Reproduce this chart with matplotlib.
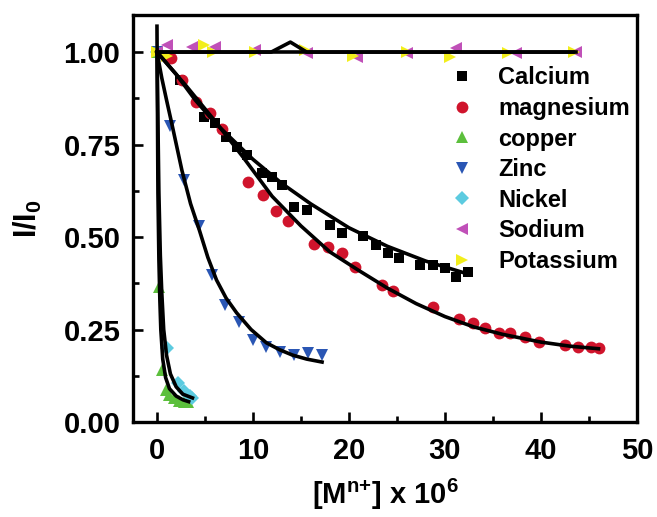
import matplotlib
matplotlib.use("Agg")
import matplotlib.pyplot as plt
from matplotlib.ticker import MultipleLocator, FormatStrFormatter

plt.rcParams['font.family'] = ['Liberation Sans', 'DejaVu Sans']
plt.rcParams['font.weight'] = 'bold'
plt.rcParams['mathtext.fontset'] = 'custom'
plt.rcParams['mathtext.rm'] = 'Liberation Sans:bold'
plt.rcParams['mathtext.bf'] = 'Liberation Sans:bold'
plt.rcParams['mathtext.it'] = 'Liberation Sans:bold'
plt.rcParams['mathtext.default'] = 'bf'

# ---- data ----
ca_x = [0, 2.4, 4.9, 6.0, 7.2, 8.3, 9.4, 10.9, 12.0, 13.0, 14.3, 15.6, 18.0, 19.3, 21.5, 22.8, 24.1, 25.2, 27.4, 28.8, 30.0, 31.2, 32.4]
ca_y = [1.0, 0.924, 0.824, 0.808, 0.770, 0.743, 0.722, 0.673, 0.662, 0.641, 0.581, 0.573, 0.532, 0.511, 0.503, 0.478, 0.457, 0.443, 0.424, 0.424, 0.416, 0.392, 0.405]
ca_fit_x = [0, 2, 4, 6, 8, 10, 13, 16, 20, 24, 28, 32.4]
ca_fit_y = [1.0, 0.94, 0.87, 0.81, 0.76, 0.71, 0.645, 0.59, 0.525, 0.475, 0.435, 0.40]

mg_x = [0, 1.5, 2.6, 4.1, 5.5, 6.8, 9.5, 11.0, 12.4, 13.6, 16.4, 17.8, 19.3, 20.6, 23.4, 24.6, 28.8, 31.5, 32.9, 34.2, 35.6, 36.8, 38.3, 39.8, 42.5, 43.9, 45.2, 46.0]
mg_y = [1.0, 0.984, 0.924, 0.865, 0.835, 0.792, 0.649, 0.614, 0.570, 0.543, 0.481, 0.473, 0.457, 0.419, 0.370, 0.354, 0.311, 0.278, 0.268, 0.254, 0.241, 0.241, 0.230, 0.216, 0.208, 0.203, 0.203, 0.200]
mg_fit_x = [0, 3, 6, 9, 12, 15, 18, 21, 24, 27, 30, 33, 36, 40, 43, 46]
mg_fit_y = [1.0, 0.91, 0.815, 0.715, 0.61, 0.53, 0.46, 0.41, 0.362, 0.32, 0.285, 0.257, 0.237, 0.216, 0.205, 0.198]

cu_x = [0, 0.2, 0.5, 0.9, 1.3, 1.8, 2.3, 2.8, 3.2]
cu_y = [1.0, 0.365, 0.14, 0.086, 0.072, 0.064, 0.058, 0.054, 0.055]
cu_fit_x = [0, 0.1, 0.2, 0.3, 0.4, 0.6, 0.9, 1.3, 2.0, 2.7, 3.3]
cu_fit_y = [1.07, 0.62, 0.44, 0.33, 0.25, 0.17, 0.12, 0.09, 0.07, 0.06, 0.055]

zn_x = [0, 1.4, 2.8, 4.4, 5.7, 7.1, 8.5, 10.0, 11.4, 12.8, 14.3, 15.7, 17.2]
zn_y = [1.0, 0.80, 0.654, 0.530, 0.397, 0.316, 0.270, 0.222, 0.203, 0.189, 0.181, 0.186, 0.181]
zn_fit_x = [0, 0.5, 1.0, 1.6, 2.6, 3.5, 4.4, 5.3, 6.2, 7.2, 8.3, 9.8, 11.4, 12.8, 14.1, 15.6, 17.2]
zn_fit_y = [1.0, 0.93, 0.87, 0.80, 0.68, 0.59, 0.52, 0.445, 0.384, 0.335, 0.295, 0.25, 0.214, 0.195, 0.181, 0.17, 0.162]

ni_x = [0, 1.0, 2.2, 2.8, 3.4, 3.7]
ni_y = [1.0, 0.20, 0.105, 0.085, 0.07, 0.065]
ni_fit_x = [0, 0.2, 0.35, 0.5, 0.7, 1.0, 1.4, 2.0, 2.7, 3.7]
ni_fit_y = [1.0, 0.62, 0.45, 0.35, 0.25, 0.18, 0.13, 0.095, 0.075, 0.065]

na_x = [0, 1.0, 3.6, 6.0, 10.2, 15.6, 20.8, 26.1, 31.2, 37.4, 43.7]
na_y = [1.0, 1.02, 1.015, 1.015, 1.005, 0.997, 0.986, 0.997, 1.01, 0.997, 1.0]
na_fit_x = [0, 43.7]
na_fit_y = [1.0, 1.0]

k_x = [0, 1.0, 4.9, 5.8, 10.2, 15.4, 20.4, 26.0, 30.5, 36.6, 43.4]
k_y = [1.0, 0.99, 1.02, 1.0, 1.0, 1.005, 0.99, 1.0, 0.986, 0.997, 1.0]
k_fit_x = [0, 11.9, 13.9, 15.6, 43.4]
k_fit_y = [1.0, 1.0, 1.027, 1.0, 1.0]

series = [
    ("Calcium", ca_x, ca_y, ca_fit_x, ca_fit_y, "s", "#000000", 7.5),
    ("magnesium", mg_x, mg_y, mg_fit_x, mg_fit_y, "o", "#d0142c", 8.5),
    ("copper", cu_x, cu_y, cu_fit_x, cu_fit_y, "^", "#5cbf3c", 8.5),
    ("Zinc", zn_x, zn_y, zn_fit_x, zn_fit_y, "v", "#2a56b4", 8.5),
    ("Nickel", ni_x, ni_y, ni_fit_x, ni_fit_y, "D", "#5ccbe0", 7),
    ("Sodium", na_x, na_y, na_fit_x, na_fit_y, "<", "#c050b8", 8.5),
    ("Potassium", k_x, k_y, k_fit_x, k_fit_y, ">", "#f2ee1c", 8.5),
]

fig = plt.figure(figsize=(6.57, 5.17), dpi=100)
ax = fig.add_axes([0.2024, 0.1838, 0.767, 0.787])

for name, x, y, fx, fy, m, c, ms in series:
    ax.plot(x, y, linestyle='none', marker=m, color=c, markersize=ms,
            markeredgewidth=0, label=name, zorder=2)
for name, x, y, fx, fy, m, c, ms in series:
    ax.plot(fx, fy, color='black', linewidth=2.6, zorder=3)

ax.set_xlim(-2.5, 50)
ax.set_ylim(0, 1.1)
ax.xaxis.set_major_locator(MultipleLocator(10))
ax.xaxis.set_minor_locator(MultipleLocator(5))
ax.yaxis.set_major_locator(MultipleLocator(0.25))
ax.yaxis.set_minor_locator(MultipleLocator(0.125))
ax.yaxis.set_major_formatter(FormatStrFormatter('%.2f'))

for s in ax.spines.values():
    s.set_linewidth(2.4)
ax.tick_params(which='both', direction='in', top=False, right=False, width=1.9)
ax.tick_params(which='major', length=7, labelsize=21)
ax.tick_params(axis='x', which='major', pad=11)
ax.tick_params(axis='y', which='major', pad=9)
ax.tick_params(which='minor', length=4)
for lab in ax.get_xticklabels() + ax.get_yticklabels():
    lab.set_fontweight('bold')

ax.set_xlabel(r'[M$^{\mathbf{n{+}}}$] x 10$^{\mathbf{6}}$', fontsize=21, fontweight='bold', labelpad=8)
ax.set_ylabel(r'I/I$_{\mathbf{0}}$', fontsize=22, fontweight='bold', labelpad=14)

leg = ax.legend(loc='upper left', bbox_to_anchor=(0.61, 0.897), frameon=False,
                fontsize=17, handlelength=1.0, handletextpad=1.05, labelspacing=0.32,
                borderaxespad=0)
for t in leg.get_texts():
    t.set_fontweight('bold')

fig.savefig("out.png", dpi=100)
